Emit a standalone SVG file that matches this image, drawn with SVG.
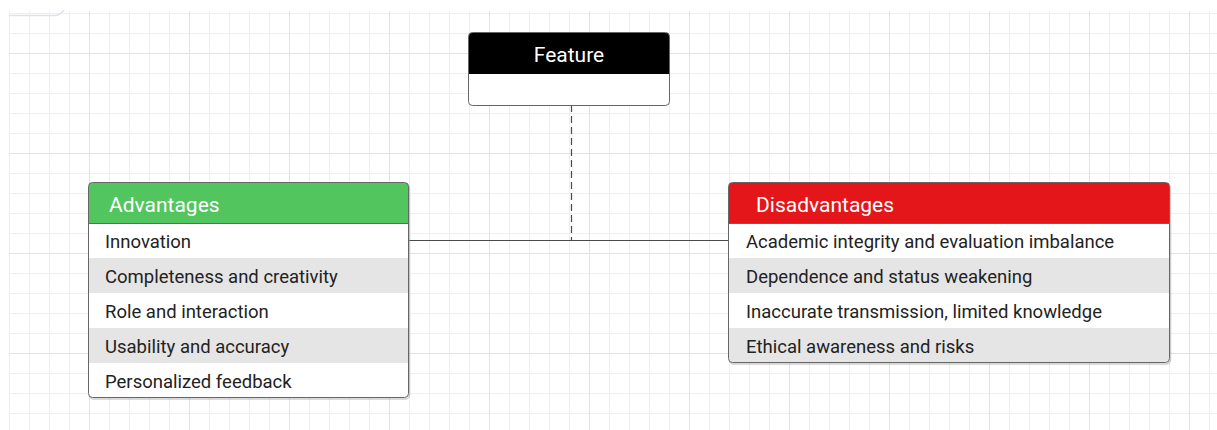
<svg xmlns="http://www.w3.org/2000/svg" width="1217" height="430" viewBox="0 0 1217 430">
  <defs>
    <pattern id="grid" patternUnits="userSpaceOnUse" x="9" y="13" width="100" height="100">
      <g fill="#efefef">
        <rect x="0" y="0" width="1" height="100"/>
        <rect x="20" y="0" width="1" height="100"/>
        <rect x="40" y="0" width="1" height="100"/>
        <rect x="60" y="0" width="1" height="100"/>
        <rect x="0" y="0" width="100" height="1"/>
        <rect x="0" y="20" width="100" height="1"/>
        <rect x="0" y="60" width="100" height="1"/>
        <rect x="0" y="80" width="100" height="1"/>
      </g>
      <g fill="#e3e3e3">
        <rect x="80" y="0" width="1" height="100"/>
        <rect x="0" y="40" width="100" height="1"/>
      </g>
    </pattern>
    <clipPath id="clipAdv"><rect x="88.5" y="182.5" width="320" height="215" rx="4"/></clipPath>
    <clipPath id="clipDis"><rect x="728.5" y="182.5" width="441" height="180" rx="4"/></clipPath>
    <clipPath id="clipFeat"><rect x="468.5" y="32.5" width="201" height="73" rx="4"/></clipPath>
  </defs>
  <style>
    .head { font-family: Roboto, "Liberation Sans", sans-serif; font-size: 21px; fill: #ffffff; }
    .item { font-family: Roboto, "Liberation Sans", sans-serif; font-size: 18.5px; fill: #222222; }
    .frame { fill: none; stroke: #666666; stroke-width: 1; }
    .shadow { fill: none; stroke: #999999; stroke-width: 1.5; opacity: 0.5; }
    .alt { fill: #e5e5e5; }
    .conn { fill: none; stroke: #4a4a4a; stroke-width: 1.2; }
  </style>

  <rect x="0" y="0" width="1217" height="430" fill="#ffffff"/>
  <rect x="9" y="11" width="1208" height="419" fill="url(#grid)"/>
  <path d="M9,15.5 H55 Q60,15.5 64,10" fill="none" stroke="#dde3ea" stroke-width="1.5"/>

  <g id="connectors">
    <path class="conn" d="M571.5,105 V240" stroke-dasharray="7 4"/>
    <path class="conn" d="M409,240.5 H729"/>
  </g>

  <g id="feature">
    <g clip-path="url(#clipFeat)">
      <rect x="468.5" y="32.5" width="201" height="73" fill="#ffffff"/>
      <rect x="468.5" y="32.5" width="201" height="41.5" fill="#000000"/>
    </g>
    <rect class="frame" x="468.5" y="32.5" width="201" height="73" rx="4"/>
    <text class="head" x="569" y="62" text-anchor="middle">Feature</text>
  </g>

  <g id="advantages">
    <rect class="shadow" x="89.5" y="184" width="320" height="215" rx="4"/>
    <g clip-path="url(#clipAdv)">
      <rect x="88.5" y="182.5" width="320" height="215" fill="#ffffff"/>
      <rect x="88.5" y="182.5" width="320" height="41" fill="#53c55f"/>
      <rect class="alt" x="88.5" y="258" width="320" height="35"/>
      <rect class="alt" x="88.5" y="328" width="320" height="35"/>
    </g>
    <rect class="frame" x="88.5" y="182.5" width="320" height="215" rx="4"/>
    <line x1="88.5" y1="223.5" x2="408.5" y2="223.5" stroke="#666666" stroke-width="1"/>
    <text class="head" x="109" y="212">Advantages</text>
    <text class="item" x="105" y="248">Innovation</text>
    <text class="item" x="105" y="283">Completeness and creativity</text>
    <text class="item" x="105" y="318">Role and interaction</text>
    <text class="item" x="105" y="353">Usability and accuracy</text>
    <text class="item" x="105" y="388">Personalized feedback</text>
  </g>

  <g id="disadvantages">
    <rect class="shadow" x="729.5" y="184" width="441" height="180" rx="4"/>
    <g clip-path="url(#clipDis)">
      <rect x="728.5" y="182.5" width="441" height="180" fill="#ffffff"/>
      <rect x="728.5" y="182.5" width="441" height="41" fill="#e5161a"/>
      <rect class="alt" x="728.5" y="258" width="441" height="35"/>
      <rect class="alt" x="728.5" y="328" width="441" height="35"/>
    </g>
    <rect class="frame" x="728.5" y="182.5" width="441" height="180" rx="4"/>
    <line x1="728.5" y1="223.5" x2="1169.5" y2="223.5" stroke="#666666" stroke-width="1"/>
    <text class="head" x="756" y="212">Disadvantages</text>
    <text class="item" x="746" y="248">Academic integrity and evaluation imbalance</text>
    <text class="item" x="746" y="283">Dependence and status weakening</text>
    <text class="item" x="746" y="318">Inaccurate transmission, limited knowledge</text>
    <text class="item" x="746" y="353">Ethical awareness and risks</text>
  </g>
</svg>
